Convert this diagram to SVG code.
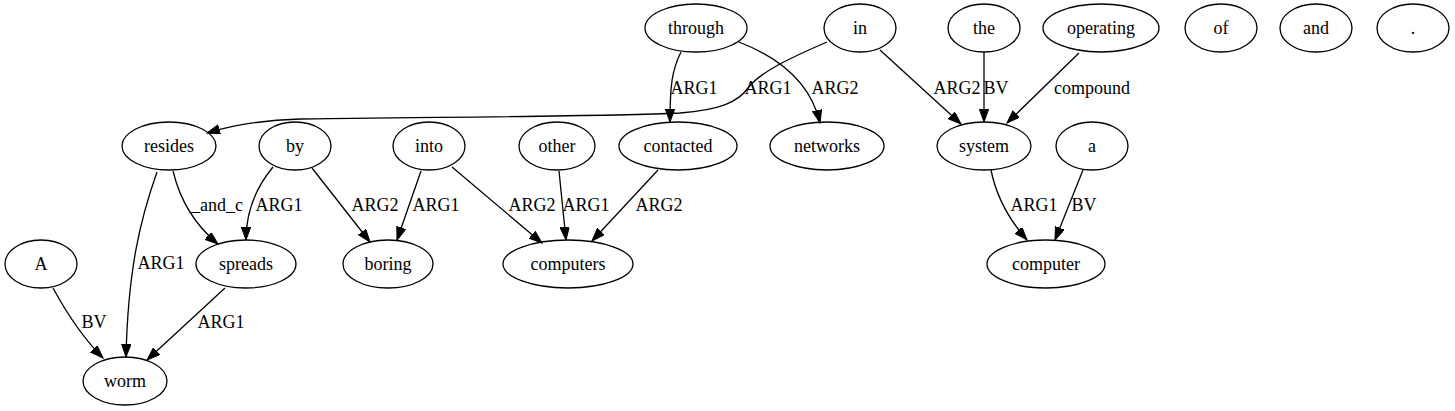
<svg xmlns="http://www.w3.org/2000/svg" width="1455" height="411" viewBox="0 0 1455 411">
<style>
.n ellipse{fill:none;stroke:#000;stroke-width:1.3}
.t{font-family:'Liberation Serif',serif;font-size:18px;fill:#000;text-anchor:middle}
.e path{fill:none;stroke:#000;stroke-width:1.3;marker-end:url(#ah)}
</style>
<defs>
<marker id="ah" markerUnits="userSpaceOnUse" markerWidth="14" markerHeight="10" refX="13" refY="4.7" orient="auto">
<path d="M0,0 L13,4.7 L0,9.4 z" fill="#000" stroke="#000" stroke-width="1"/>
</marker>
</defs>
<rect width="1455" height="411" fill="#fff"/>
<g id="edges" class="e">
<path d="M681,52 C672,70 670,85 670,122"/>
<path d="M739,42 C775,56 810,80 820,123"/>
<path d="M827,42 C790,58 760,72 748,88 C738,102 720,110 680,113 C600,117 400,117 300,119 C260,120 230,126 207,133"/>
<path d="M880,50 L961,124"/>
<path d="M984,52 L984,122"/>
<path d="M1079,53 L1007,123"/>
<path d="M991,170 C995,190 1005,215 1027,240"/>
<path d="M1083,170 L1055,240"/>
<path d="M157,172 C140,220 128,270 126,357"/>
<path d="M173,171 C180,200 195,225 218,244"/>
<path d="M273,167 C258,185 246,210 246,240"/>
<path d="M312,168 L370,242"/>
<path d="M421,171 L397,240"/>
<path d="M452,167 L542,243"/>
<path d="M559,171 L566,240"/>
<path d="M658,170 L592,241"/>
<path d="M53,288 C65,310 80,335 103,358"/>
<path d="M225,288 L147,360"/>
<text class="t" style="font-family:'Liberation Serif',serif" x="694" y="94">ARG1</text>
<text class="t" style="font-family:'Liberation Serif',serif" x="835" y="94">ARG2</text>
<text class="t" style="font-family:'Liberation Serif',serif" x="768" y="94">ARG1</text>
<text class="t" style="font-family:'Liberation Serif',serif" x="957" y="94">ARG2</text>
<text class="t" style="font-family:'Liberation Serif',serif" x="996" y="94">BV</text>
<text class="t" style="font-family:'Liberation Serif',serif" x="1092" y="94">compound</text>
<text class="t" style="font-family:'Liberation Serif',serif" x="1034" y="211">ARG1</text>
<text class="t" style="font-family:'Liberation Serif',serif" x="1084" y="211">BV</text>
<text class="t" style="font-family:'Liberation Serif',serif" x="161" y="269">ARG1</text>
<text class="t" style="font-family:'Liberation Serif',serif" x="217" y="211">_and_c</text>
<text class="t" style="font-family:'Liberation Serif',serif" x="279" y="211">ARG1</text>
<text class="t" style="font-family:'Liberation Serif',serif" x="375" y="211">ARG2</text>
<text class="t" style="font-family:'Liberation Serif',serif" x="436" y="211">ARG1</text>
<text class="t" style="font-family:'Liberation Serif',serif" x="532" y="211">ARG2</text>
<text class="t" style="font-family:'Liberation Serif',serif" x="586" y="211">ARG1</text>
<text class="t" style="font-family:'Liberation Serif',serif" x="659" y="211">ARG2</text>
<text class="t" style="font-family:'Liberation Serif',serif" x="94" y="328">BV</text>
<text class="t" style="font-family:'Liberation Serif',serif" x="221" y="328">ARG1</text>
</g>
<g id="n-through" class="n"><ellipse cx="696" cy="28" rx="51" ry="24"/><text class="t" style="font-family:'Liberation Serif',serif" x="696" y="34">through</text></g>
<g id="n-in" class="n"><ellipse cx="860" cy="28" rx="36" ry="24"/><text class="t" style="font-family:'Liberation Serif',serif" x="860" y="34">in</text></g>
<g id="n-the" class="n"><ellipse cx="984" cy="28" rx="36" ry="24"/><text class="t" style="font-family:'Liberation Serif',serif" x="984" y="34">the</text></g>
<g id="n-operating" class="n"><ellipse cx="1101" cy="28" rx="58" ry="24"/><text class="t" style="font-family:'Liberation Serif',serif" x="1101" y="34">operating</text></g>
<g id="n-of" class="n"><ellipse cx="1221" cy="28" rx="36" ry="24"/><text class="t" style="font-family:'Liberation Serif',serif" x="1221" y="34">of</text></g>
<g id="n-and" class="n"><ellipse cx="1316" cy="28" rx="36" ry="24"/><text class="t" style="font-family:'Liberation Serif',serif" x="1316" y="34">and</text></g>
<g id="n-period" class="n"><ellipse cx="1413" cy="28" rx="36" ry="24"/><text class="t" style="font-family:'Liberation Serif',serif" x="1413" y="34">.</text></g>
<g id="n-resides" class="n"><ellipse cx="169" cy="146" rx="47" ry="24"/><text class="t" style="font-family:'Liberation Serif',serif" x="169" y="152">resides</text></g>
<g id="n-by" class="n"><ellipse cx="295" cy="146" rx="36" ry="24"/><text class="t" style="font-family:'Liberation Serif',serif" x="295" y="152">by</text></g>
<g id="n-into" class="n"><ellipse cx="429" cy="146" rx="36" ry="24"/><text class="t" style="font-family:'Liberation Serif',serif" x="429" y="152">into</text></g>
<g id="n-other" class="n"><ellipse cx="557" cy="146" rx="38" ry="24"/><text class="t" style="font-family:'Liberation Serif',serif" x="557" y="152">other</text></g>
<g id="n-contacted" class="n"><ellipse cx="678" cy="146" rx="59" ry="24"/><text class="t" style="font-family:'Liberation Serif',serif" x="678" y="152">contacted</text></g>
<g id="n-networks" class="n"><ellipse cx="827" cy="146" rx="57" ry="24"/><text class="t" style="font-family:'Liberation Serif',serif" x="827" y="152">networks</text></g>
<g id="n-system" class="n"><ellipse cx="984" cy="146" rx="47" ry="24"/><text class="t" style="font-family:'Liberation Serif',serif" x="984" y="152">system</text></g>
<g id="n-a" class="n"><ellipse cx="1092" cy="146" rx="36" ry="24"/><text class="t" style="font-family:'Liberation Serif',serif" x="1092" y="152">a</text></g>
<g id="n-A" class="n"><ellipse cx="41" cy="264" rx="36" ry="24"/><text class="t" style="font-family:'Liberation Serif',serif" x="41" y="270">A</text></g>
<g id="n-spreads" class="n"><ellipse cx="246" cy="264" rx="50" ry="24"/><text class="t" style="font-family:'Liberation Serif',serif" x="246" y="270">spreads</text></g>
<g id="n-boring" class="n"><ellipse cx="388" cy="264" rx="45" ry="24"/><text class="t" style="font-family:'Liberation Serif',serif" x="388" y="270">boring</text></g>
<g id="n-computers" class="n"><ellipse cx="568" cy="264" rx="65" ry="24"/><text class="t" style="font-family:'Liberation Serif',serif" x="568" y="270">computers</text></g>
<g id="n-computer" class="n"><ellipse cx="1046" cy="264" rx="59" ry="24"/><text class="t" style="font-family:'Liberation Serif',serif" x="1046" y="270">computer</text></g>
<g id="n-worm" class="n"><ellipse cx="125" cy="381" rx="42" ry="24"/><text class="t" style="font-family:'Liberation Serif',serif" x="125" y="387">worm</text></g>
</svg>
